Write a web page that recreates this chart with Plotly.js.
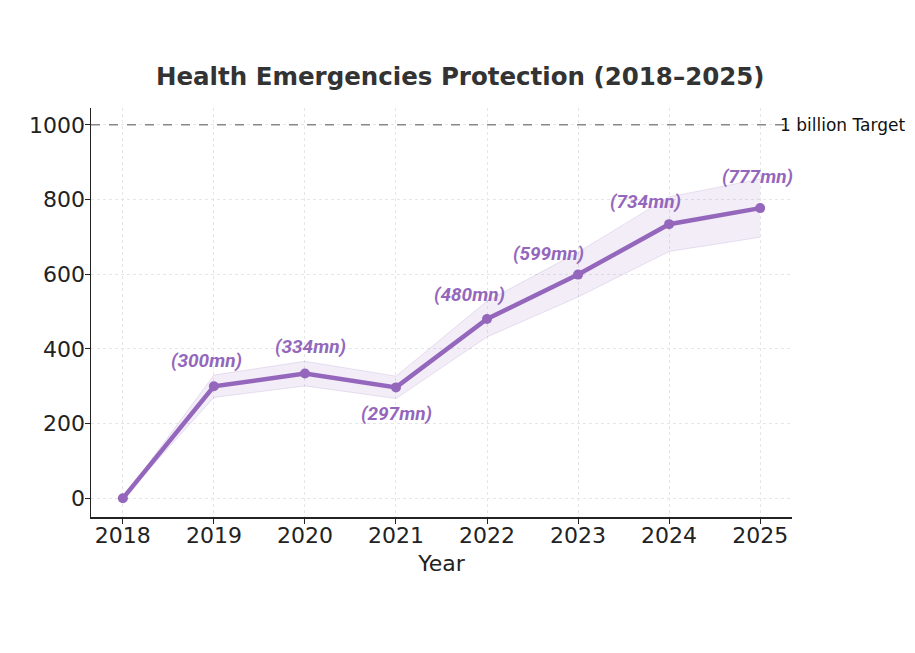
<!DOCTYPE html>
<html>
<head>
<meta charset="utf-8">
<script src="https://cdn.plot.ly/plotly-3.0.1.min.js"></script>
<style>html,body{margin:0;padding:0;background:#fff;}#chart{width:915px;height:653px;}</style>
</head>
<body>
<div id="chart"></div>
<script>
const years = [2018, 2019, 2020, 2021, 2022, 2023, 2024, 2025];
const protectedMn = [0, 300, 334, 297, 480, 599, 734, 777];
const bandUpper = [0, 330, 367, 327, 528, 659, 807, 855];
const bandLower = [0, 270, 301, 267, 432, 539, 661, 699];
const labels = ['', '(300mn)', '(334mn)', '(297mn)', '(480mn)', '(599mn)', '(734mn)', '(777mn)'];
const targetValue = 1000;
const targetLabel = '1 billion Target';
const yTicks = [0, 200, 400, 600, 800, 1000];

const purple = '#9467bd';
// label offsets (pixels) – styling only
const labelShift = [[0,0],[-7,26],[6,27],[1,-26],[-18,25],[-30,21],[-24,23],[-3,32]];

const traces = [
  {x: years, y: bandLower, mode: 'lines', line: {color: 'rgba(148,103,189,0.18)', width: 1}, hoverinfo: 'skip', showlegend: false},
  {x: years, y: bandUpper, mode: 'lines', fill: 'tonexty', fillcolor: 'rgba(148,103,189,0.12)', line: {color: 'rgba(148,103,189,0.18)', width: 1}, hoverinfo: 'skip', showlegend: false},
  {x: years, y: protectedMn, mode: 'lines+markers', line: {color: purple, width: 4.5}, marker: {color: purple, size: 10}, showlegend: false}
];

const annotations = [];
for (let i = 0; i < years.length; i++) {
  if (!labels[i]) continue;
  annotations.push({x: years[i], y: protectedMn[i], text: labels[i], showarrow: false,
    xshift: labelShift[i][0], yshift: labelShift[i][1],
    font: {family: 'Roboto, sans-serif', size: 19, color: purple, weight: 'bold', style: 'italic'}});
}
annotations.push({x: 2025.2, y: targetValue, text: targetLabel, showarrow: false, xanchor: 'left', yanchor: 'middle',
  font: {family: 'DejaVu Sans, sans-serif', size: 17, color: '#111'}});

const layout = {
  width: 915, height: 653,
  margin: {l: 91, r: 123, t: 108, b: 136},
  paper_bgcolor: '#fff', plot_bgcolor: '#fff',
  title: {text: '<b>Health Emergencies Protection (2018–2025)</b>', x: 0.503, xanchor: 'center', y: 0.883, yanchor: 'middle',
    font: {family: 'DejaVu Sans, sans-serif', size: 24.5, color: '#333'}},
  xaxis: {range: [2017.65, 2025.35], tickvals: years, ticktext: years.map(String),
    showline: true, linecolor: '#222', linewidth: 1.5, ticks: 'outside', ticklen: 5, tickcolor: '#222',
    ticklabelstandoff: -7,
    showgrid: true, gridcolor: '#e6e6e6', griddash: 'dot', gridwidth: 1, zeroline: false,
    tickfont: {family: 'DejaVu Sans, sans-serif', size: 22, color: '#222'},
    title: {text: 'Year', font: {family: 'DejaVu Sans, sans-serif', size: 22, color: '#222'}, standoff: 8}},
  yaxis: {range: [-50, 1045], tickvals: yTicks,
    showline: true, linecolor: '#222', linewidth: 1.5, ticks: 'outside', ticklen: 5, tickcolor: '#222',
    ticklabelstandoff: -5,
    showgrid: true, gridcolor: '#e6e6e6', griddash: 'dot', gridwidth: 1, zeroline: false,
    tickfont: {family: 'DejaVu Sans, sans-serif', size: 22, color: '#222'}},
  shapes: [{type: 'line', xref: 'paper', x0: 0, x1: 1, yref: 'y', y0: targetValue, y1: targetValue,
    line: {color: '#888', width: 1.5, dash: 'dash'}}],
  annotations: annotations,
  showlegend: false
};

Plotly.newPlot('chart', traces, layout, {displayModeBar: false, staticPlot: true});
</script>
</body>
</html>
